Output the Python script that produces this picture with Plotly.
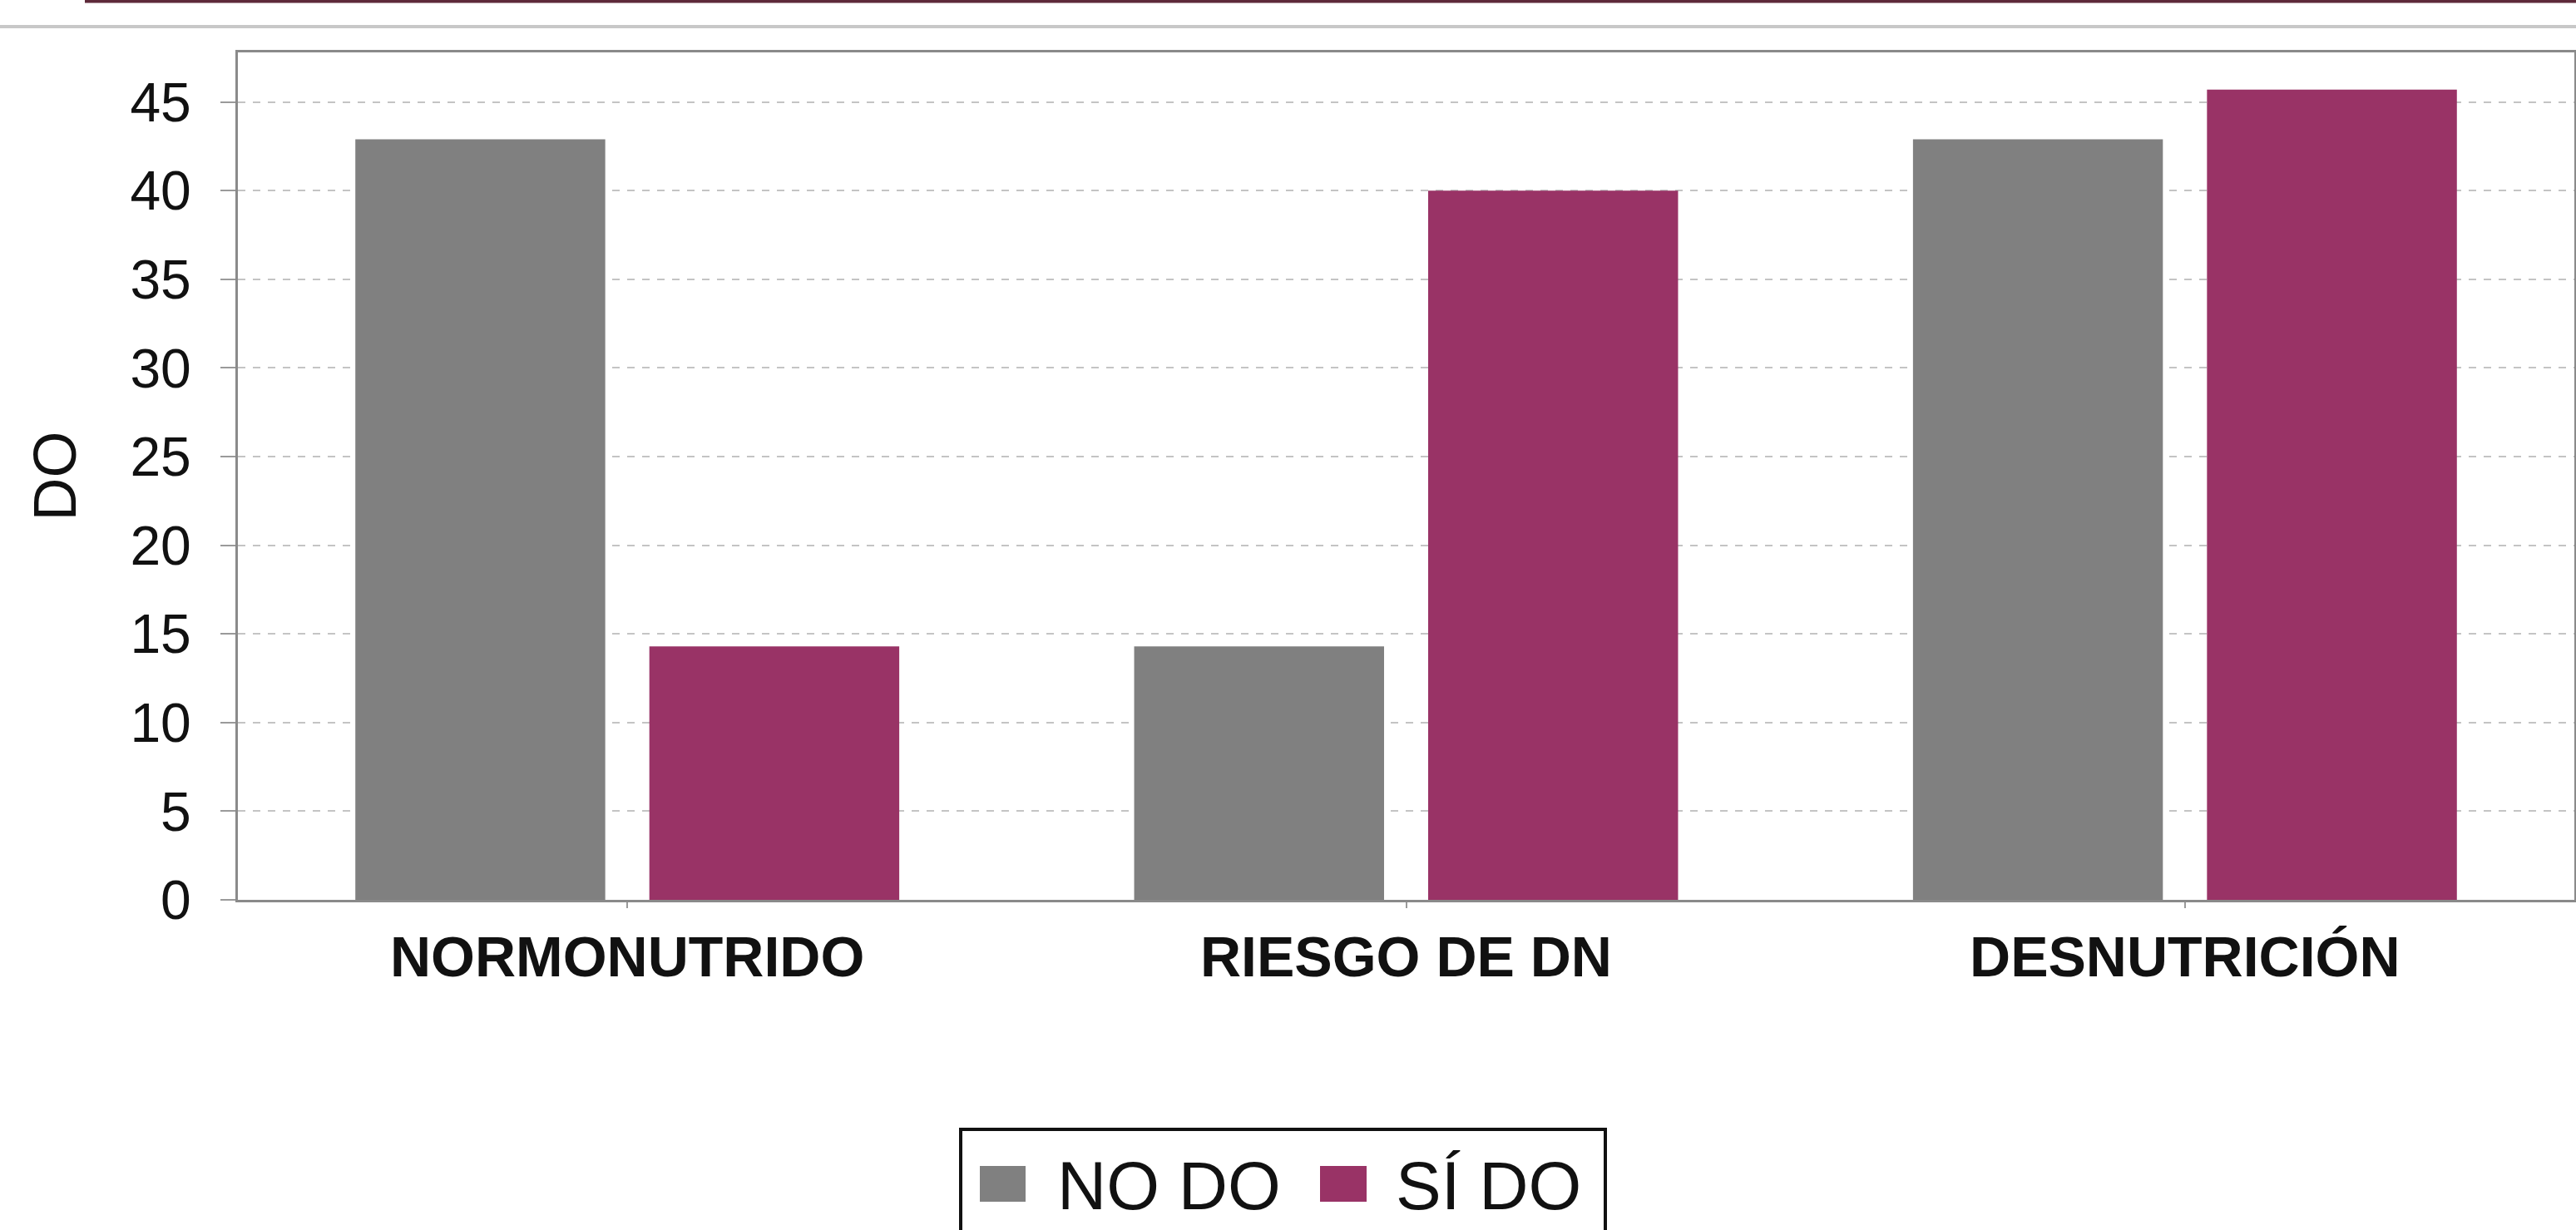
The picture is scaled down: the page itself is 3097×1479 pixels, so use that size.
import plotly.graph_objects as go

# ---- data ----
categories = ["NORMONUTRIDO", "RIESGO DE DN", "DESNUTRICIÓN"]
no_do = [42.9, 14.3, 42.9]
si_do = [14.3, 40.0, 45.7]
series_names = ["NO DO", "SÍ DO"]
y_ticks = [0, 5, 10, 15, 20, 25, 30, 35, 40, 45]
y_title = "DO"

# ---- style ----
W, H = 3097, 1479
L, R, T, B = 286, 2, 63, 397
GRAY = "#808080"
MAROON = "#993366"
FONT = "Liberation Sans, Arial, sans-serif"
pw, ph = W - L - R, H - T - B


def px_x(p):
    return (p - L) / pw


def px_y(p):
    return (H - B - p) / ph


fig = go.Figure()
fig.add_trace(go.Bar(x=categories, y=no_do, name=series_names[0],
                     marker=dict(color=GRAY, line=dict(width=0)), showlegend=False))
fig.add_trace(go.Bar(x=categories, y=si_do, name=series_names[1],
                     marker=dict(color=MAROON, line=dict(width=0)), showlegend=False))

fig.update_layout(
    width=W, height=H,
    margin=dict(l=L, r=R, t=T, b=B, autoexpand=False),
    paper_bgcolor="white", plot_bgcolor="white",
    barmode="group", bargap=0.245, bargroupgap=0.15,
    font=dict(family=FONT, color="#111111"),
    showlegend=False,
)
fig.update_xaxes(
    type="category", range=[-0.5, 2.5], automargin=False,
    showline=True, linecolor="#8a8a8a", linewidth=3, mirror=True,
    ticks="outside", ticklen=7, tickwidth=2, tickcolor="#9a9a9a",
    tickfont=dict(size=68, family=FONT, weight="bold", color="#111111"),
    ticklabelstandoff=0, showgrid=False,
)
fig.update_yaxes(
    range=[0, 47.8], tickvals=y_ticks, automargin=False,
    showline=True, linecolor="#8a8a8a", linewidth=3, mirror=True,
    ticks="outside", ticklen=18, tickwidth=2, tickcolor="#9a9a9a",
    tickfont=dict(size=66, family=FONT, color="#111111"),
    ticklabelstandoff=22,
    showgrid=True, gridcolor="#c4c4c4", gridwidth=2, griddash="dash",
    zeroline=False,
    title=dict(text=y_title, font=dict(size=72, family=FONT, color="#111111"), standoff=42),
)

# page decoration lines
fig.add_shape(type="line", xref="paper", yref="paper",
              x0=px_x(102), x1=px_x(W + 5), y0=px_y(0), y1=px_y(0),
              line=dict(color="#5e2a3a", width=7))
fig.add_shape(type="line", xref="paper", yref="paper",
              x0=px_x(-5), x1=px_x(W + 5), y0=px_y(32), y1=px_y(32),
              line=dict(color="#c8c8c8", width=4))

# legend (drawn manually to match large symbols)
fig.add_shape(type="rect", xref="paper", yref="paper",
              x0=px_x(1155), x1=px_x(1930), y0=px_y(1358), y1=px_y(1500),
              line=dict(color="#111111", width=4), fillcolor="white")
leg_items = [(1178, 1233, 1273, GRAY, series_names[0]),
             (1587, 1643, 1680, MAROON, series_names[1])]
for sx0, sx1, tx, col, name in leg_items:
    fig.add_shape(type="rect", xref="paper", yref="paper",
                  x0=px_x(sx0), x1=px_x(sx1), y0=px_y(1402), y1=px_y(1445),
                  line=dict(width=0), fillcolor=col)
    fig.add_annotation(xref="paper", yref="paper", x=px_x(tx - 4), y=px_y(1425),
                       xanchor="left", yanchor="middle", showarrow=False,
                       text=name, font=dict(size=82, family=FONT, color="#111111"))

fig.write_html(
    "out.html",
    config={"displayModeBar": False},
    post_script="document.body.style.margin='0';document.body.style.overflow='hidden';",
)
